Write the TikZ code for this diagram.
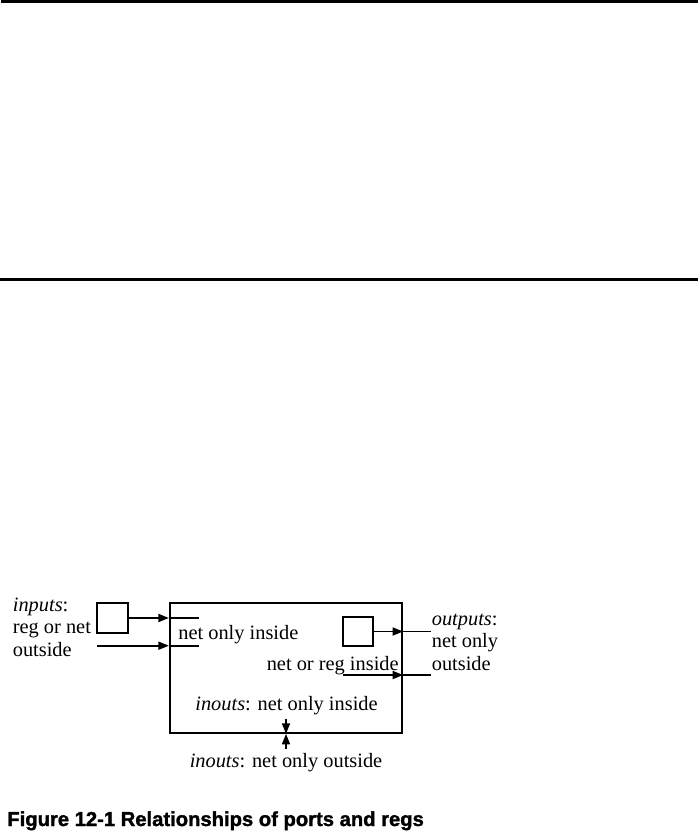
\documentclass[tikz,border=0pt]{standalone}
\usepackage{fontspec}
\setmainfont{Liberation Serif}
\newfontfamily\capfont[BoldFeatures={FakeBold=1.5}]{Liberation Sans}
\usetikzlibrary{arrows.meta,positioning,calc}
\tikzset{
  lbl/.style  ={font=\fontsize{11.6}{12.9}\selectfont, inner sep=0pt, align=left},
  core/.style ={draw, line width=1.3pt, minimum width=4.64cm, minimum height=2.6cm, inner sep=0pt},
  reg/.style  ={draw, line width=1.3pt, inner sep=0pt},
  arr/.style  ={-{Triangle[length=2.1mm, width=1.6mm]}, line width=0.95pt},
  wire/.style ={line width=0.95pt},
  rule/.style ={line width=1.6pt},
  capt/.style ={font=\capfont\bfseries\fontsize{11.5}{14}\selectfont, inner sep=0pt},
}

\begin{document}
\begin{tikzpicture}[x=0.02cm, y=-0.02cm]
  \useasboundingbox (0,0) rectangle (698,839);

  % ---- page rules ----
  \draw[rule] (1,1.5) -- (698,1.5);
  \draw[rule, line width=1.2pt] (0,279.5) -- (698,279.5);

  % ---- module body and the two regs ----
  \node[core] (mod) at (286,667.7) {};
  \node[reg, minimum width=0.62cm, minimum height=0.61cm] (rin) at (112.2,618) {};
  \node[reg, minimum width=0.6cm, minimum height=0.58cm] (rout) at (358,631.5) {};

  % ---- inputs ----
  \coordinate (in1) at (rin.east -| mod.west);
  \draw[arr] (rin.east) -- (in1);
  \draw[wire] (in1) -- ++(30,0);
  \coordinate (in2src) at (97,645.7);
  \coordinate (in2) at (in2src -| mod.west);
  \draw[arr] (in2src) -- (in2);
  \draw[wire] (in2) -- ++(30,0);

  % ---- outputs ----
  \coordinate (out1) at (rout.east -| mod.east);
  \draw[arr] (rout.east) -- (out1);
  \draw[wire] (out1) -- ++(28,0);
  \coordinate (out2src) at (343,675);
  \coordinate (out2) at (out2src -| mod.east);
  \draw[arr] (out2src) -- (out2);
  \draw[wire] (out2) -- ++(28,0);

  % ---- inout ----
  \coordinate (ioup) at ($(mod.south)+(0,-15)$);
  \coordinate (iodn) at ($(mod.south)+(0,15)$);
  \draw[arr] (ioup) -- (mod.south);
  \draw[arr] (iodn) -- (mod.south);

  % ---- labels ----
  \node[lbl, anchor=base west] (inlbl) at (12.5,656.5) {\textit{inputs}:\\reg or net\\outside};
  \node[lbl, anchor=base west] (nin) at (178,639) {net only inside};
  \node[lbl, anchor=base east] (nrin) at (399,670) {net or reg inside};
  \node[lbl, anchor=base west] (outlbl) at (431.5,670.5) {\textit{outputs}:\\net only\\outside};
  \node[lbl, anchor=base] (ioin) at (286.5,710.7) {\textit{inouts}: net only inside};
  \node[lbl, anchor=base] (ioout) at (286,767.5) {\textit{inouts}: net only outside};

  \node[capt, anchor=base west] (cap) at (7,826) {Figure 12-1 Relationships of ports and regs};
\end{tikzpicture}
\end{document}
